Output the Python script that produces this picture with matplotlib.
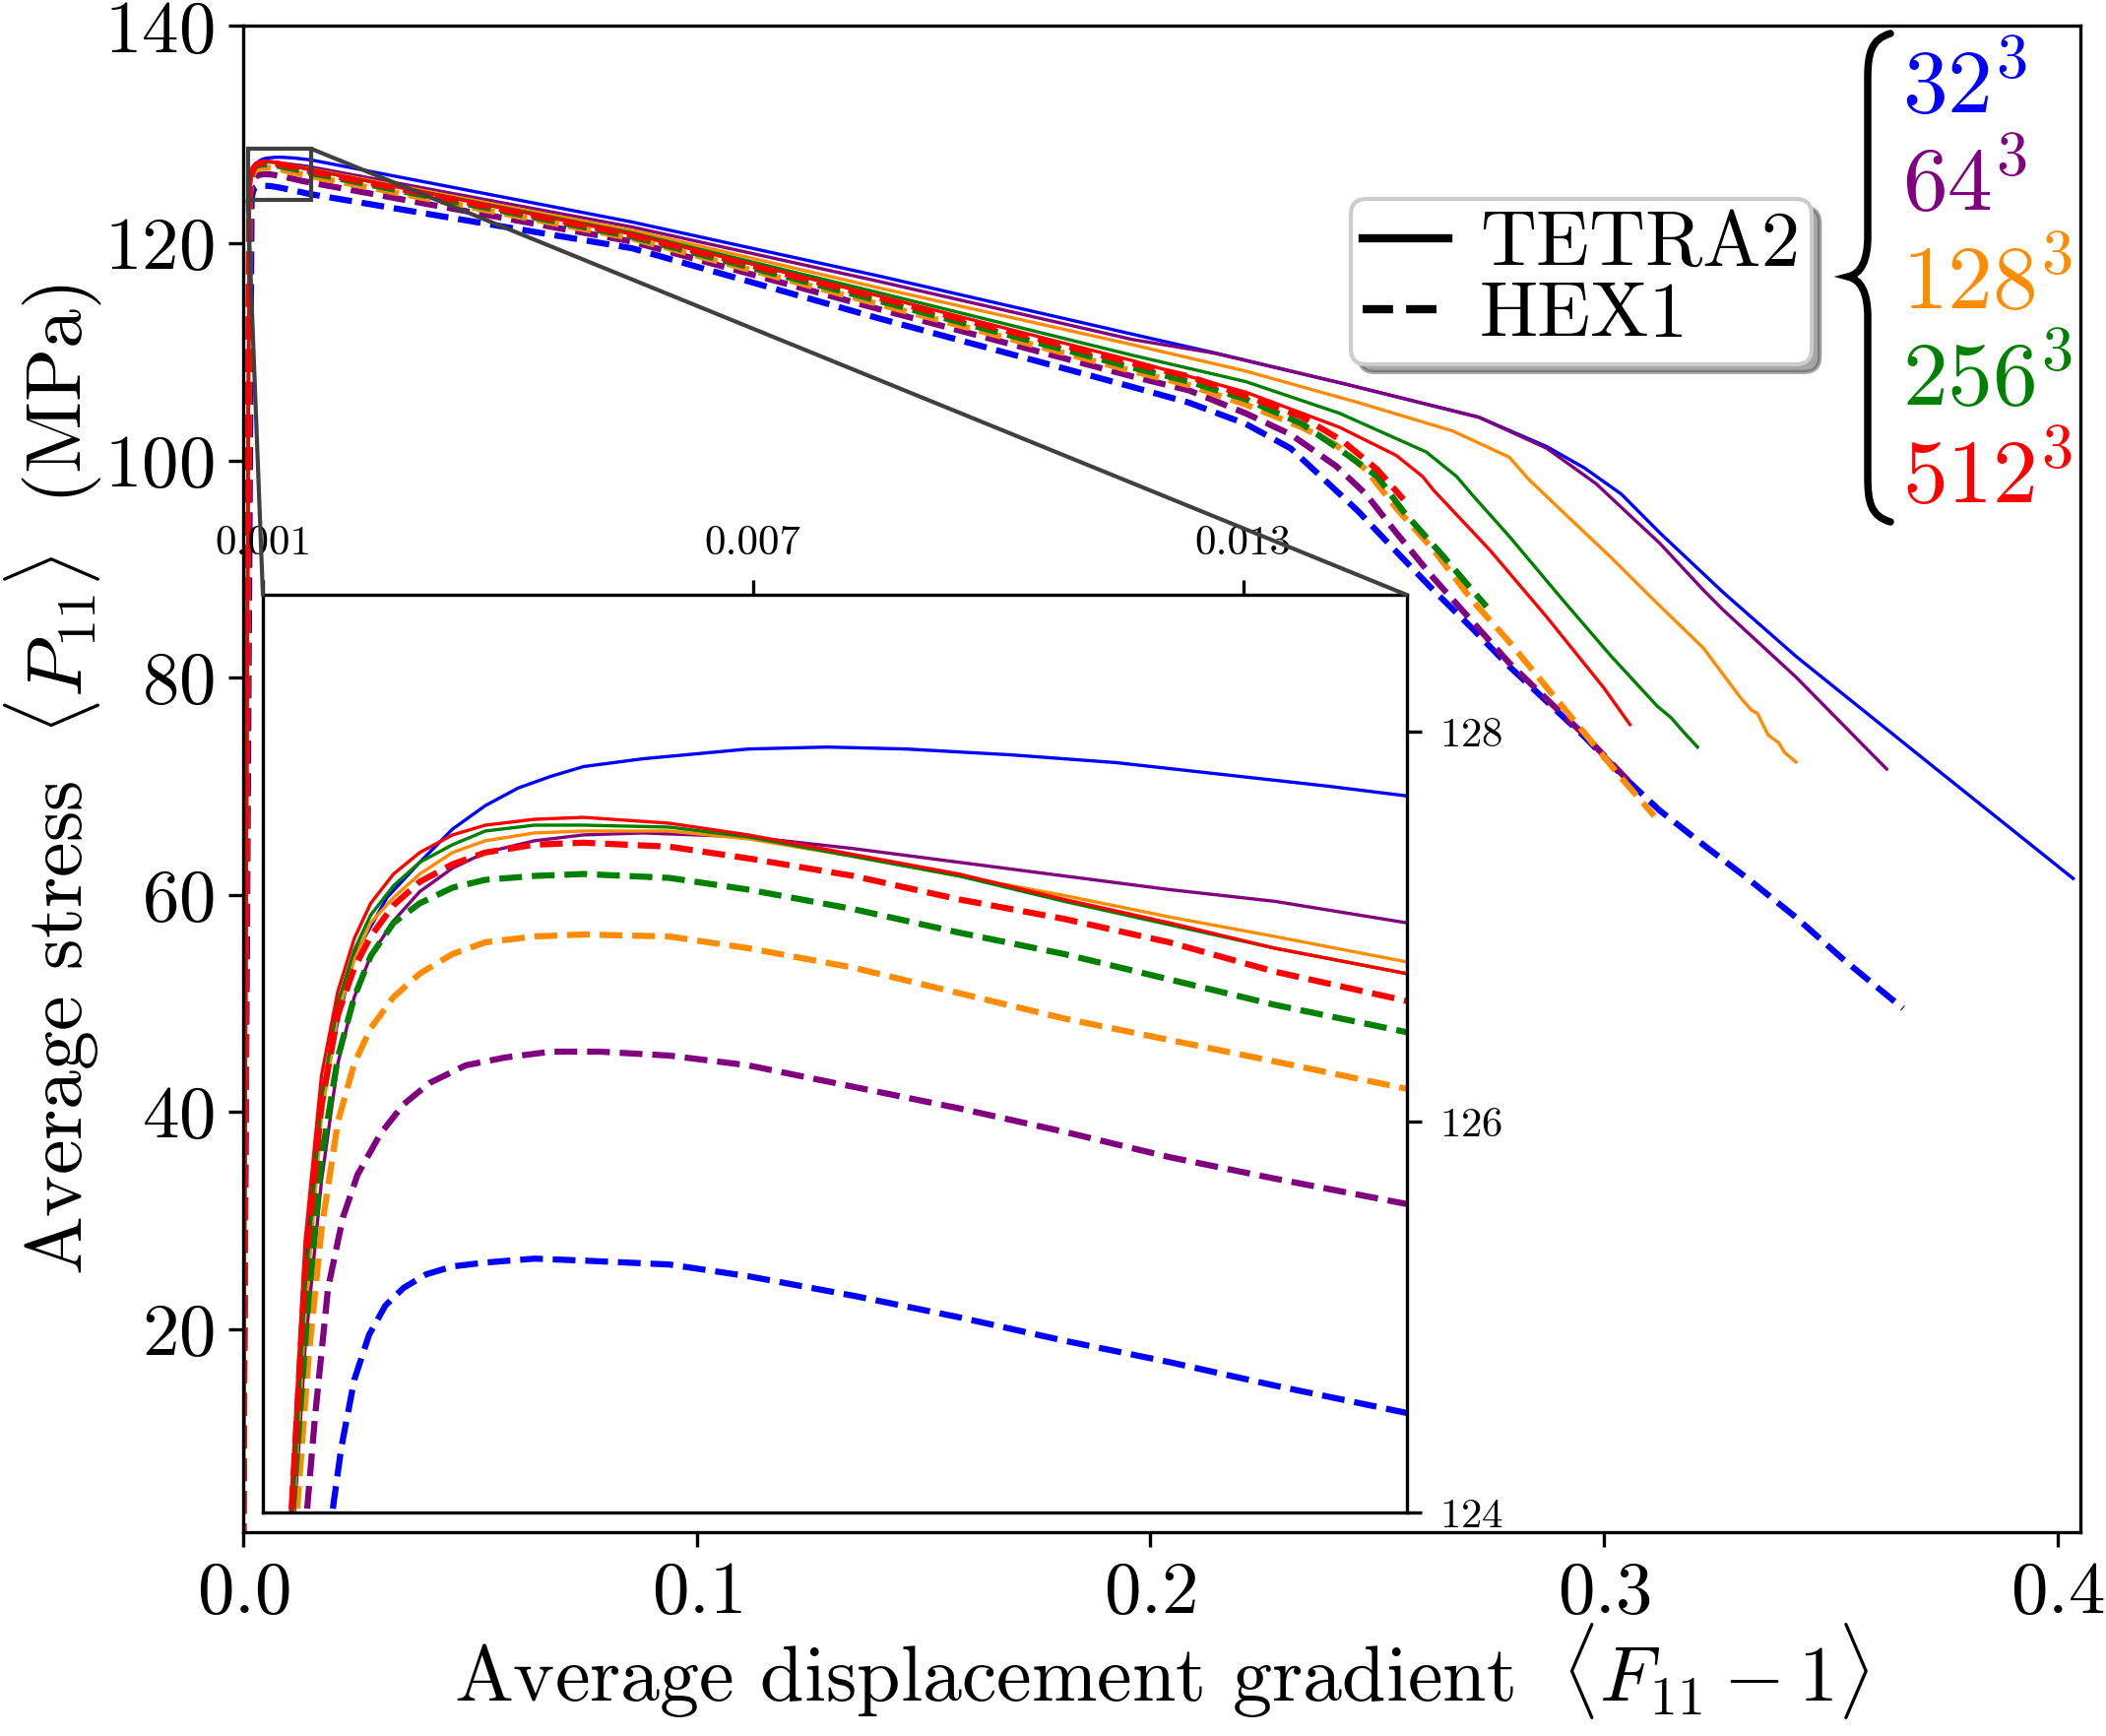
import matplotlib
matplotlib.use("Agg")
import matplotlib.pyplot as plt
from matplotlib.lines import Line2D
from matplotlib.patches import Rectangle, PathPatch, ConnectionPatch
from matplotlib.path import Path

plt.rcParams.update({
    "font.family": "serif",
    "font.serif": ["cmr10"],
    "mathtext.fontset": "cm",
    "axes.formatter.use_mathtext": True,
})

# ---- data (strain, stress in MPa) ----
# TETRA2 (solid)
x_tet_32 = [0.0, 0.001357, 0.001517, 0.001718, 0.001918, 0.002119, 0.00252, 0.002921, 0.003322,
            0.003723, 0.004124, 0.004525, 0.004926, 0.005652, 0.006941, 0.007907, 0.008875,
            0.010164, 0.011453, 0.012741, 0.014031, 0.015, 0.0857, 0.14, 0.196, 0.2142, 0.2433,
            0.2724, 0.2874, 0.2957, 0.3038, 0.3123, 0.3263, 0.3423, 0.373, 0.4034]
y_tet_32 = [0.0, 124.0, 125.24, 126.09, 126.52, 126.85, 127.15, 127.33, 127.50,
            127.62, 127.71, 127.77, 127.82, 127.86, 127.91, 127.92, 127.91,
            127.88, 127.84, 127.78, 127.72, 127.67, 121.96, 117.0, 111.63, 109.9, 107.0,
            103.98, 101.27, 99.3, 96.9, 93.33, 87.83, 81.96, 71.66, 61.5]

x_tet_64 = [0.0, 0.001389, 0.001517, 0.001718, 0.001918, 0.002119, 0.00232, 0.0026, 0.002921,
            0.003322, 0.003723, 0.004325, 0.004926, 0.005652, 0.006941, 0.00823, 0.009519,
            0.010808, 0.012097, 0.013386, 0.015, 0.0857, 0.14, 0.196, 0.2142, 0.2433, 0.2724,
            0.2874, 0.2982, 0.304, 0.3123, 0.3219, 0.3263, 0.3423, 0.3623]
y_tet_64 = [0.0, 124.0, 124.85, 125.70, 126.30, 126.64, 126.85, 127.03, 127.18,
            127.30, 127.38, 127.44, 127.47, 127.48, 127.46, 127.40, 127.33,
            127.26, 127.19, 127.13, 127.02, 121.5, 116.5, 111.14, 109.87, 107.0, 103.98,
            101.11, 97.87, 95.6, 92.36, 88.06, 86.21, 80.05, 71.58]

x_tet_128 = [0.0, 0.001377, 0.001517, 0.001718, 0.001918, 0.002119, 0.00232, 0.0026, 0.002921,
             0.003322, 0.003723, 0.004325, 0.004926, 0.005974, 0.006941, 0.00823, 0.009519,
             0.010808, 0.012097, 0.013386, 0.015, 0.0857, 0.14, 0.196, 0.221, 0.2459, 0.2666,
             0.2791, 0.2833, 0.2918, 0.3014, 0.3112, 0.3219, 0.3301, 0.3325, 0.3338, 0.3362,
             0.3385, 0.3398, 0.3423]
y_tet_128 = [0.0, 124.0, 125.0, 126.03, 126.55, 126.83, 127.02, 127.15, 127.27,
             127.38, 127.44, 127.48, 127.49, 127.49, 127.45, 127.36, 127.26,
             127.16, 127.05, 126.95, 126.82, 121.2, 115.91, 110.66, 108.23, 105.32, 102.72,
             100.3, 98.3, 94.91, 91.12, 87.05, 82.72, 78.14, 77.0, 76.7, 74.7,
             74.0, 73.1, 72.23]

x_tet_256 = [0.0, 0.001365, 0.001517, 0.001718, 0.001918, 0.002119, 0.00232, 0.0026, 0.002921,
             0.003322, 0.003723, 0.004325, 0.004926, 0.005974, 0.006941, 0.00823, 0.009519,
             0.010808, 0.012097, 0.013386, 0.015, 0.0857, 0.14, 0.196, 0.221, 0.2417, 0.2608,
             0.2675, 0.2708, 0.2791, 0.2912, 0.3015, 0.3117, 0.3148, 0.3175, 0.3206]
y_tet_256 = [0.0, 124.0, 125.15, 126.12, 126.61, 126.88, 127.06, 127.21, 127.33,
             127.42, 127.49, 127.52, 127.52, 127.51, 127.46, 127.36, 127.26,
             127.13, 127.01, 126.89, 126.76, 120.96, 115.46, 109.69, 107.26, 104.34, 100.78,
             98.52, 96.9, 93.01, 87.0, 82.0, 77.38, 76.3, 75.0, 73.6]

x_tet_512 = [0.0, 0.001337, 0.001517, 0.001718, 0.001918, 0.002119, 0.00232, 0.0026, 0.002921,
             0.003322, 0.003723, 0.004325, 0.004926, 0.005974, 0.006941, 0.00823, 0.009519,
             0.010808, 0.012097, 0.013386, 0.015, 0.0857, 0.14, 0.196, 0.221, 0.2417, 0.2542,
             0.26, 0.2625, 0.2749, 0.2874, 0.2999, 0.3057]
y_tet_512 = [0.0, 124.0, 125.39, 126.24, 126.67, 126.94, 127.12, 127.27, 127.38,
             127.47, 127.52, 127.55, 127.56, 127.53, 127.47, 127.37, 127.27,
             127.14, 127.02, 126.89, 126.76, 120.84, 115.16, 109.2, 106.29, 103.05, 100.46,
             98.52, 97.22, 91.71, 85.56, 79.08, 75.68]

# HEX1 (dashed)
x_hex_32 = [0.0, 0.00185, 0.001959, 0.002119, 0.0023, 0.0025, 0.002721, 0.003002, 0.003322,
            0.003723, 0.004325, 0.004926, 0.005974, 0.006941, 0.00823, 0.009519, 0.010808,
            0.012097, 0.013386, 0.015, 0.0857, 0.14, 0.196, 0.2085, 0.221, 0.2309, 0.2376,
            0.2459, 0.2542, 0.2625, 0.2708, 0.2791, 0.2874, 0.2957, 0.304, 0.3123, 0.3219,
            0.3321, 0.3423, 0.3526, 0.3659]
y_hex_32 = [0.0, 124.0, 124.33, 124.68, 124.91, 125.06, 125.15, 125.22, 125.26,
            125.28, 125.30, 125.29, 125.27, 125.21, 125.11, 125.0, 124.88,
            124.77, 124.65, 124.51, 119.54, 113.1, 106.77, 105.32, 103.37, 101.11, 98.52,
            95.28, 91.6, 88.0, 84.59, 81.03, 77.79, 74.55, 70.99, 67.75, 64.6,
            61.35, 57.92, 54.1, 49.53]

x_hex_64 = [0.0, 0.001538, 0.001638, 0.001798, 0.001979, 0.002159, 0.00244, 0.002721, 0.003042,
            0.003483, 0.003965, 0.004525, 0.005127, 0.005974, 0.006941, 0.00823, 0.009519,
            0.010808, 0.012097, 0.013386, 0.015, 0.0857, 0.14, 0.196, 0.2085, 0.221, 0.2309,
            0.2409, 0.2475, 0.2542, 0.2625, 0.2708, 0.2791, 0.2874, 0.2957, 0.3065]
y_hex_64 = [0.0, 124.0, 124.49, 125.15, 125.51, 125.73, 125.94, 126.09, 126.20,
            126.29, 126.33, 126.36, 126.36, 126.34, 126.29, 126.18, 126.07,
            125.95, 125.82, 125.71, 125.58, 120.15, 113.95, 107.74, 106.45, 104.34, 102.4,
            99.49, 96.9, 93.33, 89.12, 85.24, 81.35, 78.0, 74.7, 70.0]

x_hex_128 = [0.0, 0.001417, 0.001558, 0.001718, 0.001918, 0.002119, 0.00232, 0.0026, 0.002921,
             0.003322, 0.003723, 0.004325, 0.004926, 0.005974, 0.006941, 0.00823, 0.009519,
             0.010808, 0.012097, 0.013386, 0.015, 0.0857, 0.14, 0.196, 0.2085, 0.221, 0.2334,
             0.2409, 0.2475, 0.2542, 0.2625, 0.2708, 0.2791, 0.2874, 0.2957, 0.304, 0.3111]
y_hex_128 = [0.0, 124.0, 124.79, 125.45, 126.0, 126.30, 126.48, 126.64, 126.76,
             126.86, 126.92, 126.95, 126.96, 126.95, 126.89, 126.79, 126.66,
             126.53, 126.42, 126.31, 126.17, 120.45, 114.4, 108.23, 106.93, 105.15, 103.05,
             101.43, 99.16, 95.6, 91.71, 87.18, 83.29, 79.08, 74.88, 70.66, 67.26]

x_hex_256 = [0.0, 0.001365, 0.001558, 0.001718, 0.001918, 0.002119, 0.00232, 0.0026, 0.002921,
             0.003322, 0.003723, 0.004325, 0.004926, 0.005974, 0.006941, 0.00823, 0.009519,
             0.010808, 0.012097, 0.013386, 0.015, 0.0857, 0.14, 0.196, 0.2085, 0.221, 0.2334,
             0.2425, 0.25, 0.2558, 0.2641, 0.2741]
y_hex_256 = [0.0, 124.0, 125.09, 125.82, 126.33, 126.64, 126.85, 127.02, 127.12,
             127.20, 127.24, 127.26, 127.27, 127.25, 127.19, 127.09, 126.97,
             126.86, 126.73, 126.60, 126.46, 120.6, 114.71, 108.55, 107.26, 105.64, 103.37,
             100.78, 98.52, 95.28, 91.39, 86.53]

x_hex_512 = [0.0, 0.001349, 0.001517, 0.001718, 0.001918, 0.002119, 0.00232, 0.0026, 0.002921,
             0.003322, 0.003723, 0.004325, 0.004926, 0.005974, 0.006941, 0.00823, 0.009519,
             0.010808, 0.012097, 0.013386, 0.015, 0.0857, 0.14, 0.196, 0.2085, 0.221, 0.2334,
             0.2425, 0.25, 0.2558]
y_hex_512 = [0.0, 124.0, 125.24, 126.09, 126.55, 126.79, 126.95, 127.11, 127.23,
             127.32, 127.38, 127.42, 127.43, 127.41, 127.35, 127.26, 127.14,
             127.04, 126.92, 126.77, 126.62, 120.75, 115.0, 108.94, 107.74, 105.96, 104.02,
             101.75, 99.16, 96.41]

resolutions = [r"$32^3$", r"$64^3$", r"$128^3$", r"$256^3$", r"$512^3$"]
colors = ["blue", "purple", "darkorange", "green", "red"]
tetra = [(x_tet_32, y_tet_32), (x_tet_64, y_tet_64), (x_tet_128, y_tet_128),
         (x_tet_256, y_tet_256), (x_tet_512, y_tet_512)]
hexa = [(x_hex_32, y_hex_32), (x_hex_64, y_hex_64), (x_hex_128, y_hex_128),
        (x_hex_256, y_hex_256), (x_hex_512, y_hex_512)]

main_xticks = [0.0, 0.1, 0.2, 0.3, 0.4]
main_yticks = [20, 40, 60, 80, 100, 120, 140]
inset_xticks = [0.001, 0.007, 0.013]
inset_xlabels = ["0.001", "0.007", "0.013"]
inset_yticks = [124, 126, 128]
inset_box = (0.001, 0.015, 124.0, 128.7)


def draw_curves(ax):
    for (x, y), c in zip(tetra, colors):
        ax.plot(x, y, color=c, lw=0.8, ls="-")
    for (x, y), c in zip(hexa, colors):
        ax.plot(x, y, color=c, lw=1.5, ls="--")


fig = plt.figure(figsize=(2139 / 300, 1763 / 300), dpi=300)
ax = fig.add_axes([0.11547, 0.11741, 0.87237, 0.86756])
draw_curves(ax)
ax.set_xlim(0, 0.405)
ax.set_ylim(1.3, 140)
ax.set_xticks(main_xticks)
ax.set_yticks(main_yticks)
ax.tick_params(labelsize=18)
ax.set_xlabel(r"Average displacement gradient $\;\langle F_{11}-1\rangle$", fontsize=19.2,
              labelpad=-1.5)
ax.set_ylabel(r"Average stress $\;\langle P_{11}\rangle\;$ (MPa)", fontsize=19.2, labelpad=0)

# zoom box on the main axes
x0, x1, y0, y1 = inset_box
ax.add_patch(Rectangle((x0, y0), x1 - x0, y1 - y0, fill=False, ec="0.25", lw=1.0, zorder=5))

# inset
axins = fig.add_axes([0.12483, 0.12876, 0.54301, 0.52864])
draw_curves(axins)
axins.set_xlim(x0, x1)
axins.set_ylim(y0, y1)
axins.xaxis.tick_top()
axins.yaxis.tick_right()
axins.set_xticks(inset_xticks, labels=inset_xlabels)
axins.set_yticks(inset_yticks)
axins.tick_params(labelsize=10.3, pad=4.5)

for xy_main, xy_ins in [((x0, y0), (0, 1)), ((x1, y1), (1, 1))]:
    con = ConnectionPatch(xyA=xy_main, coordsA=ax.transData, xyB=xy_ins,
                          coordsB=axins.transAxes, color="0.25", lw=1.0)
    fig.add_artist(con)

# legend for element type
handles = [Line2D([], [], color="k", lw=2, ls="-"), Line2D([], [], color="k", lw=2, ls="--")]
ax.legend(handles, ["TETRA2", "HEX1"], loc="upper left", bbox_to_anchor=(0.603, 0.885),
          borderaxespad=0, fontsize=19, handlelength=1.1, handletextpad=0.4,
          labelspacing=0.0, borderpad=0.15, shadow=True, fancybox=True, framealpha=1)

# resolution labels with a brace
W, H = 2139.0, 1763.0
baselines = [115, 214, 314, 412, 511]
for lab, c, yb in zip(resolutions, colors, baselines):
    fig.text(1932 / W, 1 - yb / H, lab, color=c, fontsize=22, ha="left", va="baseline")

pts = [(1920, 34), (1900, 40), (1897, 55), (1897, 80),
       (1897, 240),
       (1897, 265), (1890, 278), (1877, 281),
       (1890, 284), (1897, 297), (1897, 322),
       (1897, 484),
       (1897, 510), (1900, 524), (1920, 530)]
codes = [Path.MOVETO, Path.CURVE4, Path.CURVE4, Path.CURVE4,
         Path.LINETO,
         Path.CURVE4, Path.CURVE4, Path.CURVE4,
         Path.CURVE4, Path.CURVE4, Path.CURVE4,
         Path.LINETO,
         Path.CURVE4, Path.CURVE4, Path.CURVE4]
brace = Path([(px / W, 1 - py / H) for px, py in pts], codes)
fig.add_artist(PathPatch(brace, transform=fig.transFigure, fill=False, lw=1.8, ec="k",
                         capstyle="round"))

fig.savefig("out.png", dpi=300)
